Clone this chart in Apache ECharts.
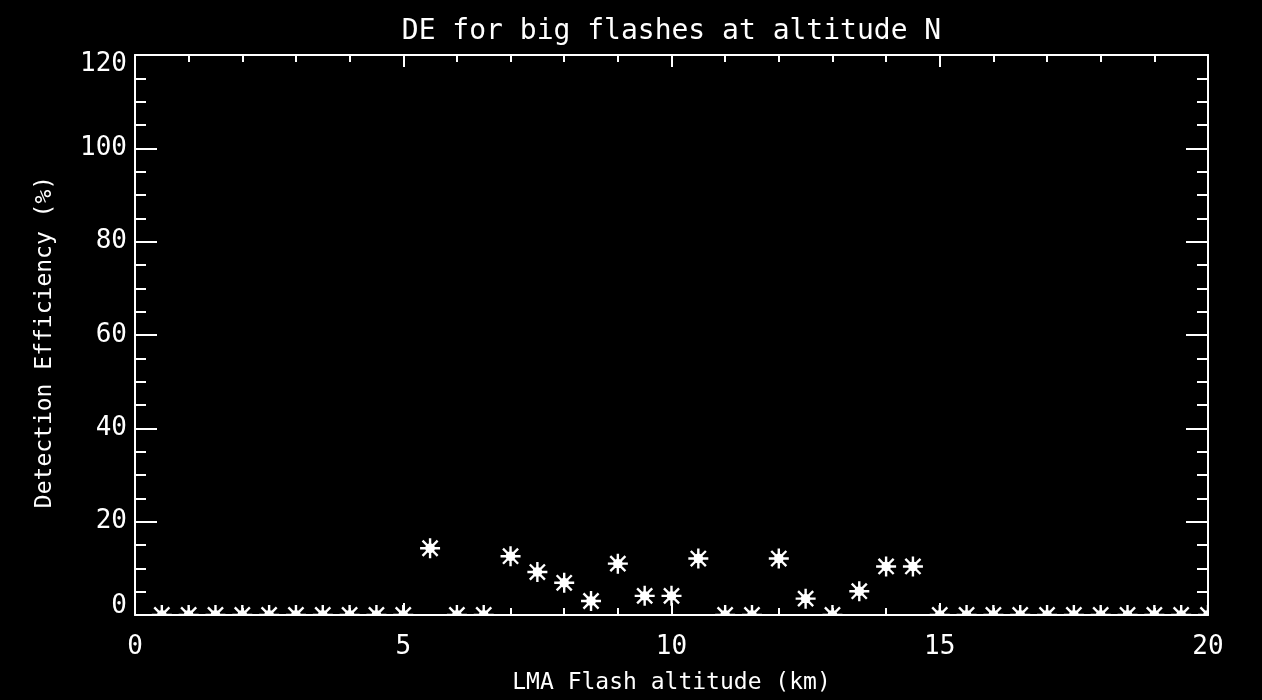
<!DOCTYPE html>
<html>
<head>
<meta charset="utf-8">
<script src="https://cdn.jsdelivr.net/npm/echarts@6/dist/echarts.min.js"></script>
<style>html,body{margin:0;padding:0;background:#000;}#c{width:1262px;height:700px;}</style>
</head>
<body>
<div id="c"></div>
<script>
// ---- data ----
var altitudes = [0.5, 1, 1.5, 2, 2.5, 3, 3.5, 4, 4.5, 5,
                 5.5, 6, 6.5, 7, 7.5, 8, 8.5, 9, 9.5, 10,
                 10.5, 11, 11.5, 12, 12.5, 13, 13.5, 14, 14.5, 15,
                 15.5, 16, 16.5, 17, 17.5, 18, 18.5, 19, 19.5, 20];
var detectionEff = [0, 0, 0, 0, 0, 0, 0, 0, 0, 0,
                    14.3, 0, 0, 12.6, 9.2, 6.9, 3.0, 11.0, 4.1, 4.1,
                    12.1, 0, 0, 12.1, 3.5, 0, 5.1, 10.4, 10.4, 0,
                    0, 0, 0, 0, 0, 0, 0, 0, 0, 0];
var xTicks = [0, 5, 10, 15, 20];
var yTicks = [0, 20, 40, 60, 80, 100, 120];
var titleText = 'DE for big flashes at altitude N';
var xName = 'LMA Flash altitude (km)';
var yName = 'Detection Efficiency (%)';

// ---- layout ----
var G = {left: 135, top: 55, width: 1073, height: 561};
var FONT = 'DejaVu Sans Mono';
var W = 1262, H = 700;

var star = 'path://M0 8.8 H20 V11.2 H0 Z M8.8 0 H11.2 V20 H8.8 Z ' +
  'M1.6 3.3 L3.3 1.6 L18.4 16.7 L16.7 18.4 Z ' +
  'M16.7 1.6 L18.4 3.3 L3.3 18.4 L1.6 16.7 Z ' +
  'M10 4.8 L13.7 6.3 L15.2 10 L13.7 13.7 L10 15.2 L6.3 13.7 L4.8 10 L6.3 6.3 Z';

var lineStyle = {color: '#fff', width: 2};

function xAxisDef(pos, show) {
  return {
    type: 'value', position: pos, min: xTicks[0], max: xTicks[xTicks.length - 1], interval: 5,
    z: 10,
    axisLine: {show: true, onZero: false, lineStyle: lineStyle},
    axisTick: {show: true, inside: true, length: 12, lineStyle: {color: '#fff', width: 2}},
    minorTick: {show: true, splitNumber: 5, length: 7, lineStyle: {color: '#fff', width: 2}},
    splitLine: {show: false},
    axisLabel: {show: show, color: '#fff', fontFamily: FONT, fontSize: 26, margin: 19,
      formatter: function (v) { return xTicks.indexOf(v) >= 0 ? String(v) : ''; }},
    name: show ? xName : '', nameLocation: 'middle', nameGap: 57,
    nameTextStyle: {color: '#fff', fontFamily: FONT, fontSize: 23}
  };
}
function yAxisDef(pos, show) {
  var yMin = yTicks[0], yMax = yTicks[yTicks.length - 1];
  return {
    type: 'value', position: pos, min: yMin, max: yMax, interval: 20,
    z: 10,
    axisLine: {show: true, onZero: false, lineStyle: lineStyle},
    axisTick: {show: true, inside: true, length: 22, lineStyle: {color: '#fff', width: 2}},
    minorTick: {show: true, splitNumber: 4, length: 11, lineStyle: {color: '#fff', width: 2}},
    splitLine: {show: false},
    axisLabel: {show: show, color: '#fff', fontFamily: FONT, fontSize: 26, margin: 8,
      verticalAlignMinLabel: 'bottom', verticalAlignMaxLabel: 'top',
      formatter: function (v) {
        if (yTicks.indexOf(v) < 0) return '';
        if (v === yMin || v === yMax) return '{e|' + v + '}';
        return String(v);
      },
      rich: {e: {color: '#fff', fontFamily: FONT, fontSize: 26, lineHeight: 18}}},
    name: show ? yName : '', nameLocation: 'middle', nameGap: 78, nameRotate: 90,
    nameTextStyle: {color: '#fff', fontFamily: FONT, fontSize: 23, padding: [0, 14, 0, 0]}
  };
}

var points = altitudes.map(function (a, i) { return [a, detectionEff[i]]; });

var chart = echarts.init(document.getElementById('c'), null, {renderer: 'canvas'});
chart.setOption({
  backgroundColor: '#000',
  animation: false,
  title: {
    text: titleText, left: G.left + G.width / 2, textAlign: 'center', top: 18, padding: 0, z: 10,
    textStyle: {color: '#fff', fontFamily: FONT, fontSize: 28, fontWeight: 'normal'}
  },
  grid: {left: G.left, top: G.top, width: G.width, height: G.height, containLabel: false},
  xAxis: [xAxisDef('bottom', true), xAxisDef('top', false)],
  yAxis: [yAxisDef('left', true), yAxisDef('right', false)],
  series: [{
    type: 'scatter', xAxisIndex: 0, yAxisIndex: 0, z: 2,
    data: points, symbol: star, symbolSize: 20, clip: false,
    itemStyle: {color: '#fff', opacity: 1}
  }],
  graphic: [
    {type: 'rect', z: 5, silent: true, shape: {x: 0, y: G.top + G.height, width: W, height: H}, style: {fill: '#000'}},
    {type: 'rect', z: 5, silent: true, shape: {x: 0, y: 0, width: W, height: G.top}, style: {fill: '#000'}},
    {type: 'rect', z: 5, silent: true, shape: {x: 0, y: 0, width: G.left, height: H}, style: {fill: '#000'}},
    {type: 'rect', z: 5, silent: true, shape: {x: G.left + G.width, y: 0, width: W, height: H}, style: {fill: '#000'}}
  ]
});
</script>
</body>
</html>
